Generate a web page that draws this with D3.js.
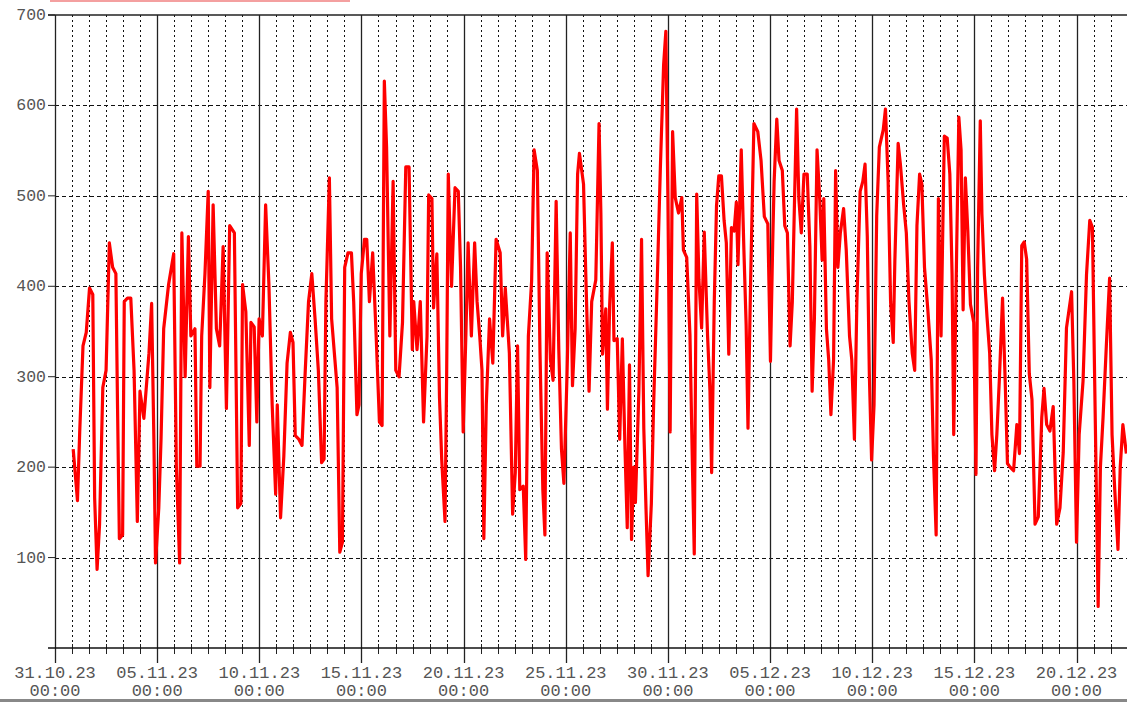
<!DOCTYPE html>
<html>
<head>
<meta charset="utf-8">
<script src="https://cdn.jsdelivr.net/npm/d3@7"></script>
<style>
  body { margin: 0; background: #fff; }
  svg { display: block; }
</style>
</head>
<body>
<div id="chart"></div>
<script>
// size of the picture and of the plot area
const width = 1127
const height = 702
const plotLeft = 55, plotTop = 15, plotBottom = 648
const pxPerDay = 20.43

// series: days since 31.10.23 00:00 and the value read at that moment
const sampleDays = [
  0.89, 1.10, 1.21, 1.37, 1.53, 1.69, 1.85, 1.94, 2.06, 2.18, 2.34, 2.50, 2.66, 2.82, 2.98, 3.06, 3.15, 3.31, 3.39, 3.55,
  3.71, 3.87, 4.03, 4.16, 4.35, 4.60, 4.73, 4.84, 4.92, 5.08, 5.19, 5.32, 5.56, 5.81, 5.94, 6.10, 6.21, 6.37, 6.53, 6.65,
  6.85, 6.94, 7.10, 7.18, 7.34, 7.50, 7.58, 7.74, 7.90, 8.06, 8.23, 8.39, 8.55, 8.78, 8.94, 9.10, 9.18, 9.34, 9.51, 9.59,
  9.75, 9.88, 9.99, 10.15, 10.31, 10.47, 10.63, 10.80, 10.88, 11.04, 11.20, 11.36, 11.52, 11.65, 11.76, 11.93, 12.09, 12.25, 12.41, 12.57,
  12.73, 12.89, 13.05, 13.17, 13.26, 13.43, 13.54, 13.70, 13.81, 13.94, 14.07, 14.18, 14.34, 14.51, 14.62, 14.78, 14.88, 14.99, 15.15, 15.26,
  15.39, 15.55, 15.72, 15.88, 16.01, 16.12, 16.23, 16.39, 16.55, 16.68, 16.84, 17.01, 17.17, 17.33, 17.49, 17.56, 17.72, 17.88, 18.04, 18.21,
  18.29, 18.45, 18.53, 18.69, 18.82, 18.93, 19.09, 19.17, 19.25, 19.41, 19.58, 19.74, 19.85, 19.98, 20.11, 20.22, 20.38, 20.54, 20.66, 20.79,
  20.90, 20.99, 21.11, 21.27, 21.43, 21.59, 21.79, 21.91, 22.04, 22.24, 22.40, 22.53, 22.64, 22.75, 22.92, 23.04, 23.17, 23.33, 23.45, 23.61,
  23.74, 23.88, 23.98, 24.09, 24.25, 24.38, 24.53, 24.66, 24.79, 24.91, 25.06, 25.22, 25.33, 25.46, 25.58, 25.67, 25.87, 25.98, 26.14, 26.27,
  26.47, 26.63, 26.72, 26.80, 26.96, 27.04, 27.15, 27.28, 27.36, 27.52, 27.64, 27.77, 27.90, 28.01, 28.12, 28.22, 28.33, 28.41, 28.58, 28.71,
  28.82, 28.93, 29.03, 29.19, 29.30, 29.47, 29.63, 29.79, 29.90, 30.00, 30.11, 30.23, 30.36, 30.52, 30.68, 30.76, 30.92, 31.08, 31.20, 31.29,
  31.41, 31.52, 31.65, 31.78, 31.94, 32.06, 32.14, 32.27, 32.38, 32.49, 32.62, 32.75, 32.86, 32.98, 33.11, 33.24, 33.35, 33.43, 33.59, 33.72,
  33.83, 33.92, 34.05, 34.21, 34.40, 34.56, 34.72, 34.89, 35.02, 35.13, 35.20, 35.33, 35.44, 35.60, 35.72, 35.85, 35.98, 36.09, 36.20, 36.30,
  36.41, 36.53, 36.66, 36.82, 36.95, 37.06, 37.17, 37.30, 37.43, 37.55, 37.63, 37.76, 37.87, 37.98, 38.11, 38.21, 38.32, 38.44, 38.60, 38.73,
  38.89, 39.00, 39.13, 39.25, 39.41, 39.54, 39.65, 39.76, 39.86, 39.97, 40.09, 40.22, 40.35, 40.54, 40.65, 40.78, 40.90, 41.03, 41.11, 41.27,
  41.38, 41.54, 41.67, 41.80, 41.96, 42.08, 42.19, 42.32, 42.43, 42.56, 42.72, 42.89, 43.00, 43.13, 43.24, 43.37, 43.53, 43.67, 43.80, 43.91,
  43.99, 44.12, 44.24, 44.35, 44.45, 44.56, 44.68, 44.81, 44.97, 45.08, 45.16, 45.29, 45.37, 45.49, 45.62, 45.75, 45.86, 45.99, 46.10, 46.23,
  46.38, 46.51, 46.62, 46.75, 46.92, 47.08, 47.21, 47.32, 47.44, 47.56, 47.69, 47.82, 47.97, 48.13, 48.30, 48.41, 48.54, 48.70, 48.86, 49.03,
  49.19, 49.35, 49.51, 49.76, 49.87, 50.00, 50.13, 50.32, 50.49, 50.65, 50.78, 50.89, 51.06, 51.17, 51.30, 51.46, 51.62, 51.74, 51.87, 52.03,
  52.14, 52.27, 52.44
]
const loadValues = [
  220, 163, 239, 334, 349, 398, 391, 166, 87, 136, 288, 307, 448, 421, 414, 269, 121, 125, 383, 387,
  387, 307, 140, 284, 254, 326, 381, 231, 94, 155, 231, 353, 402, 436, 201, 94, 459, 300, 455, 345,
  353, 201, 201, 345, 414, 505, 288, 490, 353, 334, 444, 265, 467, 459, 155, 160, 402, 372, 224, 360,
  355, 250, 364, 345, 490, 402, 269, 170, 269, 144, 212, 315, 349, 338, 235, 231, 224, 307, 383, 414,
  364, 307, 205, 209, 383, 520, 364, 319, 288, 106, 117, 421, 437, 437, 383, 258, 269, 414, 452, 452,
  383, 437, 345, 250, 246, 627, 554, 345, 516, 307, 300, 360, 532, 532, 330, 383, 330, 383, 250, 345,
  501, 497, 376, 436, 277, 208, 140, 300, 524, 400, 509, 505, 421, 239, 345, 448, 345, 448, 383, 345,
  307, 121, 269, 364, 315, 452, 437, 345, 398, 326, 148, 194, 334, 175, 179, 98, 345, 406, 551, 528,
  326, 174, 125, 437, 319, 296, 494, 330, 220, 182, 300, 459, 290, 353, 524, 547, 513, 414, 284, 383,
  407, 580, 480, 325, 375, 264, 380, 448, 340, 342, 231, 342, 220, 133, 313, 120, 200, 161, 284, 452,
  243, 153, 80, 160, 268, 399, 530, 645, 682, 498, 239, 571, 498, 481, 498, 440, 432, 346, 202, 104,
  502, 407, 354, 460, 346, 284, 194, 383, 489, 522, 522, 473, 448, 325, 465, 461, 493, 424, 551, 440,
  357, 243, 407, 580, 571, 539, 477, 469, 317, 448, 516, 585, 539, 528, 467, 459, 334, 383, 497, 596,
  497, 459, 524, 524, 444, 284, 364, 551, 497, 429, 497, 353, 319, 258, 319, 528, 421, 459, 486, 440,
  345, 319, 231, 383, 505, 516, 535, 455, 303, 208, 269, 478, 554, 573, 596, 516, 383, 338, 429, 558,
  535, 490, 459, 383, 326, 307, 467, 524, 513, 421, 375, 319, 212, 125, 497, 345, 566, 564, 524, 413,
  236, 420, 587, 551, 374, 520, 461, 380, 360, 192, 420, 583, 480, 413, 366, 326, 236, 196, 236, 300,
  387, 295, 204, 200, 196, 247, 215, 445, 449, 430, 303, 275, 137, 145, 255, 287, 247, 240, 267, 137,
  155, 216, 354, 394, 295, 117, 236, 295, 413, 473, 465, 295, 46, 200, 255, 334, 409, 236, 176, 109,
  200, 247, 215
]

// axis ticks
const yTickValues = [100, 200, 300, 400, 500, 600, 700]
const majorTickDays = [0, 5, 10, 15, 20, 25, 30, 35, 40, 45, 50]
const minorStepHours = 20

const start = new Date(2023, 9, 31)
const data = sampleDays.map((d, i) => ({ t: d3.timeMinute.offset(start, Math.round(d * 1440)), v: loadValues[i] }))

const x = d3.scaleTime()
  .domain([start, d3.timeDay.offset(start, 55)])
  .range([plotLeft, plotLeft + 55 * pxPerDay])
const y = d3.scaleLinear()
  .domain([0, 700])
  .range([plotBottom, plotTop])

const svg = d3.select("#chart")
  .append("svg")
    .attr("width", width)
    .attr("height", height)
    .style("background", "#fff")

const majorDates = majorTickDays.map(d => d3.timeDay.offset(start, d))
const minorDates = d3.range(0, 55 * 24, minorStepHours)
  .filter(h => h % 120 !== 0)
  .map(h => d3.timeHour.offset(start, h))
  .filter(d => x(d) < width)

// horizontal dashed grid
svg.append("g")
  .selectAll("line")
  .data(yTickValues.filter(v => v < 700))
  .join("line")
    .attr("x1", plotLeft).attr("x2", width)
    .attr("y1", d => Math.round(y(d)) + 0.5).attr("y2", d => Math.round(y(d)) + 0.5)
    .attr("stroke", "#111")
    .attr("stroke-dasharray", "4,3")

// vertical dotted grid every 20 hours
svg.append("g")
  .selectAll("line")
  .data(minorDates)
  .join("line")
    .attr("x1", d => Math.round(x(d)) + 0.5).attr("x2", d => Math.round(x(d)) + 0.5)
    .attr("y1", plotTop).attr("y2", plotBottom)
    .attr("stroke", "#111")
    .attr("stroke-dasharray", "2,3")

// small ticks on the time axis
svg.append("g")
  .selectAll("line")
  .data(minorDates)
  .join("line")
    .attr("x1", d => Math.round(x(d)) + 0.5).attr("x2", d => Math.round(x(d)) + 0.5)
    .attr("y1", plotBottom - 4).attr("y2", plotBottom + 6)
    .attr("stroke", "#222")

// solid lines every 5 days, running below the axis
svg.append("g")
  .selectAll("line")
  .data(majorDates.filter(d => x(d) < width))
  .join("line")
    .attr("x1", d => Math.round(x(d)) + 0.5).attr("x2", d => Math.round(x(d)) + 0.5)
    .attr("y1", plotTop).attr("y2", plotBottom + 15)
    .attr("stroke", "#222")
    .attr("stroke-width", 1.3)

// frame top and time axis
svg.append("line")
  .attr("x1", plotLeft - 7).attr("x2", width)
  .attr("y1", y(700)).attr("y2", y(700))
  .attr("stroke", "#222").attr("stroke-width", 1.3)
svg.append("line")
  .attr("x1", plotLeft - 7).attr("x2", width)
  .attr("y1", y(0)).attr("y2", y(0))
  .attr("stroke", "#111").attr("stroke-width", 1.5)

// value ticks and labels
svg.append("g")
  .selectAll("line")
  .data(yTickValues)
  .join("line")
    .attr("x1", plotLeft - 7).attr("x2", plotLeft)
    .attr("y1", d => y(d)).attr("y2", d => y(d))
    .attr("stroke", "#222")
svg.append("g")
  .selectAll("text")
  .data(yTickValues)
  .join("text")
    .attr("x", plotLeft - 9)
    .attr("y", d => y(d) + 5)
    .attr("text-anchor", "end")
    .attr("font-family", "Liberation Mono, monospace")
    .attr("font-size", 16.5)
    .attr("fill", "#555")
    .text(d => d)

// time labels, two lines each
const fmtDay = d3.timeFormat("%d.%m.%y")
const fmtTime = d3.timeFormat("%H:%M")
const labels = svg.append("g")
  .selectAll("text")
  .data(majorDates.filter(d => x(d) < width))
  .join("text")
    .attr("text-anchor", "middle")
    .attr("font-family", "Liberation Mono, monospace")
    .attr("font-size", 17)
    .attr("fill", "#555")
labels.append("tspan")
  .attr("x", d => x(d))
  .attr("y", 678)
  .text(d => fmtDay(d))
labels.append("tspan")
  .attr("x", d => x(d))
  .attr("y", 696)
  .text(d => fmtTime(d))

// the red series
const line = d3.line()
  .x(d => x(d.t))
  .y(d => y(d.v))
svg.append("path")
  .datum(data)
  .attr("fill", "none")
  .attr("stroke", "#ff0000")
  .attr("stroke-width", 3.2)
  .attr("stroke-linejoin", "round")
  .attr("d", line)

// cut-off legend strip at the top and bottom border
svg.append("rect")
  .attr("x", 50).attr("y", 0)
  .attr("width", 300).attr("height", 2)
  .attr("fill", "#f4a0a0")
svg.append("rect")
  .attr("x", 0).attr("y", height - 3)
  .attr("width", width).attr("height", 3)
  .attr("fill", "#888")
</script>
</body>
</html>
